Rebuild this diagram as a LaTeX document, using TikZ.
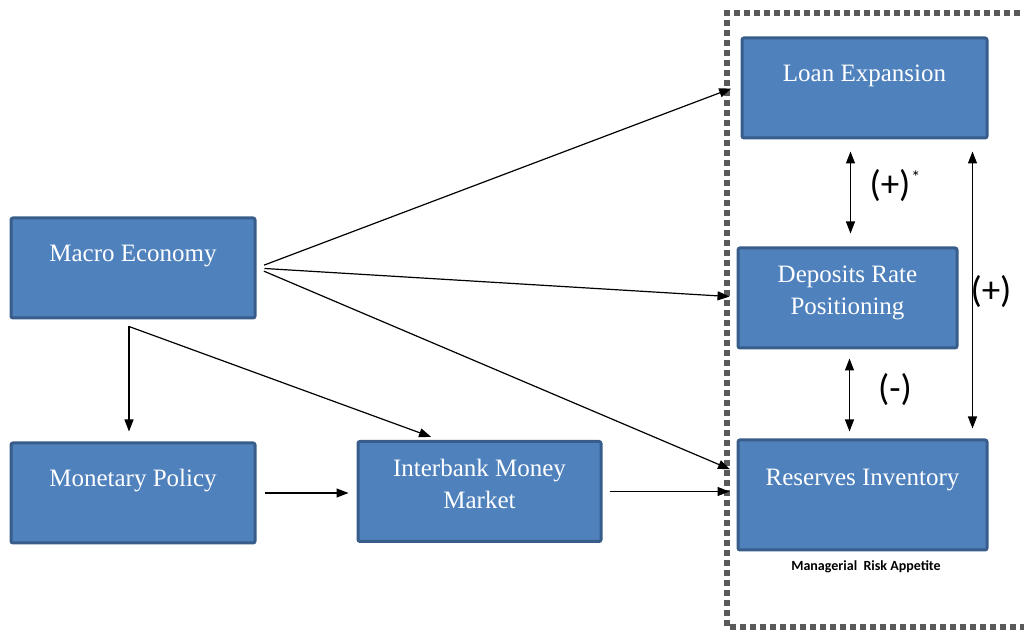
\documentclass[tikz,border=0pt]{standalone}
\usepackage{fontspec}
\setmainfont{Liberation Serif}
\newfontfamily\labelfont{Carlito}
\usetikzlibrary{arrows.meta}
\definecolor{boxfill}{HTML}{4F81BD}
\definecolor{boxline}{HTML}{385D8A}
\definecolor{framegray}{HTML}{5A5A5A}

\begin{document}
\begin{tikzpicture}[x=0.5pt,y=-0.5pt,
    block/.style={draw=boxline,line width=1.5pt,fill=boxfill,text=white,rounded corners=1pt,
      font=\fontsize{12.5}{16}\selectfont,align=center,minimum height=50pt},
    link/.style={-{Triangle[length=6pt,width=4.5pt]},line width=0.6pt},
    twoway/.style={{Triangle[length=6pt,width=4.5pt]}-{Triangle[length=6pt,width=4.5pt]},line width=0.6pt},
    sign/.style={font=\labelfont\fontsize{18.5}{20}\selectfont}]
    \useasboundingbox (0,0) rectangle (1024,630);

    % Managerial frame
    \draw[framegray,line width=3pt,dash pattern=on 3pt off 2pt] (1030,13) -- (727,13) -- (727,627) -- (1030,627);
    \node[font=\labelfont\bfseries\fontsize{7}{8}\selectfont] (appetite) at (866,567) {Managerial\ \ Risk Appetite};

    % Left side
    \node[block,minimum width=122pt,text depth=15pt] (macro) at (133,268) {Macro Economy};
    \node[block,minimum width=122pt,text depth=15pt] (monetary) at (133,493) {Monetary Policy};
    \node[block,minimum width=121.5pt,text depth=8pt] (interbank) at (479.5,491.5) {Interbank Money\\Market};

    % Bank side
    \node[block,minimum width=122.5pt,text depth=15pt] (loan) at (864.5,88) {Loan Expansion};
    \node[block,minimum width=109.5pt,text depth=8pt] (deposits) at (847.5,298) {Deposits Rate\\Positioning};
    \node[block,minimum width=124.5pt,minimum height=55pt,text depth=18pt] (reserves) at (862.5,495) {Reserves Inventory};

    % Macro links
    \coordinate (fork) at ([xshift=-2pt,yshift=-3.5pt]macro.south);
    \draw[link,shorten <=4pt,shorten >=5pt] (macro.east) -- ([yshift=1.5pt]loan.west);
    \draw[link,shorten <=4pt,shorten >=3.5pt] (macro.east) -- ([yshift=0.5pt]deposits.west);
    \draw[link,shorten <=4pt,shorten >=3.5pt] (macro.east) -- ([yshift=11.5pt]reserves.west);
    \draw[link,shorten >=5pt] (fork) -- ([xshift=-2pt]monetary.north);
    \draw[link,shorten >=4.5pt] (fork) -- ([xshift=-20pt]interbank.north);

    % Policy and market links
    \draw[link,shorten <=4pt,shorten >=4pt] (monetary.east) -- (monetary.east -| interbank.west);
    \draw[link,shorten <=3.5pt,shorten >=3.5pt] (interbank.east) -- (interbank.east -| reserves.west);

    % Two-way links
    \draw[twoway,shorten <=6pt,shorten >=6.5pt] ([xshift=1.5pt]deposits.north |- loan.south) -- ([xshift=1.5pt]deposits.north);
    \draw[twoway,shorten <=4.5pt,shorten >=3.5pt] ([xshift=1pt]deposits.south) -- ([xshift=1pt]deposits.south |- reserves.north);
    \draw[twoway,shorten <=6pt,shorten >=5pt] ([xshift=-8pt]loan.south east) -- ([xshift=-8pt]reserves.north east);
    \node[sign] (posone) at (895,186) {(+)\kern0.5pt\raisebox{0.75ex}{\fontsize{9}{9}\selectfont*}};
    \node[sign] (neg) at (895,390) {(-)};
    \node[sign] (postwo) at (991,292) {(+)};
\end{tikzpicture}
\end{document}
